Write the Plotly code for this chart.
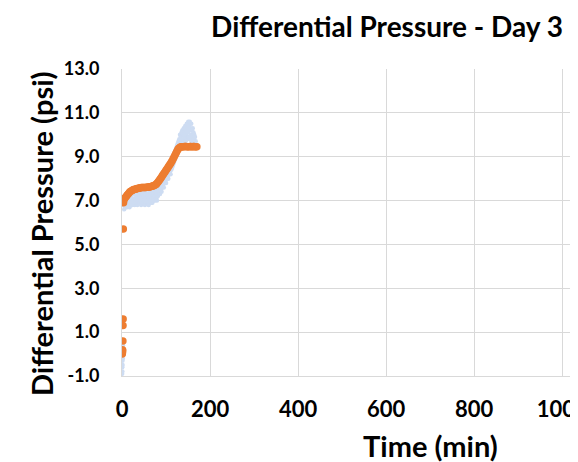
import plotly.graph_objects as go

# ---- data ----
orange_t = [0.5, 0.8, 1.0, 1.2, 1.5, 2.0, 2.3, 2.6, 3.0, 3.5,
            4, 6, 8, 10, 12, 14, 16, 18, 20, 22, 24, 26, 28, 30,
            32, 34, 36, 38, 40, 42, 44, 46, 48, 50, 52, 54, 56, 58, 60,
            62, 64, 66, 68, 70, 72, 74, 76, 78, 80, 82, 84, 86, 88, 90,
            92, 94, 96, 98, 100, 102, 104, 106, 108, 110, 112, 114, 116, 118, 120,
            122, 124, 126, 128, 130, 132, 134, 136, 138, 140, 142, 144, 146, 148, 150,
            152, 154, 156, 158, 160, 162, 164, 166, 168, 170]
orange_v = [0.0, 0.1, 0.05, 0.2, 0.15, 0.6, 1.3, 1.6, 5.7, 6.9,
            7.0, 7.1, 7.15, 7.2, 7.25, 7.3, 7.35, 7.4, 7.42, 7.45, 7.47, 7.5, 7.5, 7.52,
            7.53, 7.55, 7.55, 7.56, 7.57, 7.58, 7.6, 7.6, 7.6, 7.6, 7.6, 7.6, 7.61, 7.61, 7.62,
            7.62, 7.63, 7.64, 7.65, 7.66, 7.68, 7.7, 7.72, 7.75, 7.8, 7.85, 7.9, 7.96, 8.02, 8.08,
            8.14, 8.2, 8.26, 8.32, 8.38, 8.44, 8.5, 8.56, 8.62, 8.68, 8.75, 8.82, 8.9, 8.98, 9.06,
            9.14, 9.22, 9.3, 9.36, 9.4, 9.43, 9.45, 9.46, 9.46, 9.46, 9.47, 9.47, 9.47, 9.46, 9.46,
            9.46, 9.47, 9.47, 9.46, 9.46, 9.47, 9.47, 9.46, 9.46, 9.46]

blue_t = [0.3, 0.6, 0.8, 1.1, 1.3, 1.6, 1.8, 2.2, 2.5,
          3.5, 4.2, 5.1, 5.8, 6.5, 7.3, 8.1, 9.0, 9.6, 10.4, 11.2, 12.0, 12.9, 13.7, 14.5,
          15.3, 16.2, 17.0, 17.9, 18.6, 19.5, 20.3, 21.2, 22.0, 22.9, 23.7, 24.6, 25.4, 26.3,
          27.1, 28.0, 28.8, 29.7, 30.5, 31.4, 32.2, 33.1, 34.0, 34.8, 35.7, 36.5, 37.4, 38.2,
          39.1, 40.0, 40.8, 41.7, 42.5, 43.4, 44.2, 45.1, 46.0, 46.8, 47.7, 48.5, 49.4, 50.2,
          51.1, 52.0, 52.8, 53.7, 54.5, 55.4, 56.2, 57.1, 58.0, 58.8, 59.7, 60.5, 61.4, 62.2,
          63.1, 64.0, 64.8, 65.7, 66.5, 67.4, 68.2, 69.1, 70.0, 70.8, 71.7, 72.5, 73.4, 74.2,
          75.1, 76.0, 76.8, 77.7, 78.5, 79.4,
          80.3, 81.2, 82.0, 83.0, 83.8, 84.7, 85.5, 86.4, 87.2, 88.1, 89.0, 89.8, 90.7, 91.5,
          92.4, 93.2, 94.1, 95.0, 95.8, 96.7, 97.5, 98.4, 99.2, 100.1, 101.0, 101.8, 102.7,
          103.5, 104.4, 105.2, 106.1, 107.0, 107.8, 108.7, 109.5, 110.4, 111.2, 112.1, 113.0,
          113.8, 114.7, 115.5, 116.4, 117.2, 118.1, 119.0, 119.8, 120.7, 121.5, 122.4, 123.2,
          124.1, 125.0, 125.8, 126.7, 127.5, 128.4, 129.2,
          130.1, 130.9, 131.8, 132.6, 133.5, 134.3, 135.2, 136.0, 136.9, 137.7, 138.6, 139.4,
          140.3, 141.1, 142.0, 142.8, 143.7, 144.5, 145.4, 146.2, 147.1, 147.9, 148.8, 149.6,
          150.5, 151.3, 152.2, 153.0, 153.9, 154.7, 155.6, 156.4, 157.3, 158.1, 159.0, 159.8,
          160.7, 161.5, 162.4, 163.2, 164.1, 164.9, 165.8, 166.6, 167.5]
blue_v = [-0.9, -0.6, -0.8, -0.3, -0.5, 0.1, -0.2, 0.4, 0.2,
          6.8, 7.0, 6.6, 7.2, 6.9, 6.7, 7.1, 6.8, 7.3, 6.9, 6.7, 7.2, 7.0, 6.8, 7.3,
          6.9, 7.1, 6.7, 7.4, 7.0, 6.8, 7.2, 6.9, 7.4, 7.1, 6.8, 7.3, 7.0, 6.9,
          7.4, 7.1, 6.8, 7.3, 7.0, 7.5, 6.9, 7.2, 7.0, 6.8, 7.4, 7.1, 6.9, 7.3,
          7.0, 7.5, 6.9, 7.2, 7.0, 6.8, 7.4, 7.1, 6.9, 7.3, 7.0, 7.5, 6.9, 7.2,
          7.0, 6.8, 7.4, 7.1, 6.9, 7.3, 7.0, 7.5, 6.9, 7.2, 7.0, 6.8, 7.3, 7.1,
          6.9, 7.4, 7.0, 7.2, 6.9, 7.3, 7.1, 6.9, 7.4, 7.1, 7.0, 7.3, 7.1, 7.5,
          7.0, 7.2, 7.4, 7.1, 7.3, 7.0,
          7.5, 7.2, 7.6, 7.3, 7.7, 7.4, 7.6, 7.3, 7.8, 7.5, 7.7, 7.4, 7.9, 7.6,
          8.0, 7.7, 7.9, 7.6, 8.1, 7.8, 8.2, 7.9, 8.1, 7.8, 8.3, 8.0, 8.4,
          8.1, 8.3, 8.0, 8.5, 8.2, 8.6, 8.3, 8.5, 8.2, 8.7, 8.4, 8.8,
          8.5, 8.9, 8.6, 9.0, 8.7, 9.1, 8.8, 9.2, 8.9, 9.3, 9.0, 9.4,
          9.1, 9.5, 9.2, 9.6, 9.3, 9.7, 9.4,
          9.8, 9.5, 10.0, 9.6, 9.9, 9.4, 10.1, 9.7, 10.2, 9.5, 10.0, 9.8,
          10.3, 9.6, 10.1, 9.9, 10.4, 9.7, 10.2, 10.0, 10.5, 9.8, 10.3, 10.1,
          10.6, 9.9, 10.4, 10.2, 10.6, 9.8, 10.3, 10.0, 10.5, 9.7, 10.2, 9.9,
          10.3, 9.6, 10.1, 9.8, 10.0, 9.6, 9.9, 9.5, 9.7]

y_ticks = [-1, 1, 3, 5, 7, 9, 11, 13]
x_ticks = [0, 200, 400, 600, 800, 1000]

FONT = "Lato"
grid = "#d9d9d9"

# The page body has an 8px default margin, so the figure is sized to fit the window.
W, H = 570, 454
L, T, B = 114, 61, 86
PW, PH = W - L, H - T - B

fig = go.Figure()
fig.add_trace(go.Scatter(x=blue_t, y=blue_v, mode="markers",
                         marker=dict(size=4.5, color="#cddcf2"), showlegend=False))
fig.add_trace(go.Scatter(x=orange_t, y=orange_v, mode="markers",
                         marker=dict(size=7.5, color="#ED7D31"), showlegend=False))

fig.update_layout(
    width=W, height=H,
    margin=dict(l=L, r=0, t=T, b=B, pad=0),
    paper_bgcolor="white", plot_bgcolor="white",
    font=dict(family=FONT, color="#000000"),
    title=dict(text="Differential Pressure - Day 3", xref="container", yref="container",
               x=379/W, y=1-19/H, xanchor="center", yanchor="middle",
               font=dict(family=FONT, size=28, weight="bold", color="#000000")),
    annotations=[
        dict(text="Time (min)", xref="paper", yref="paper",
             x=(422-L)/PW, y=-(437-(T+PH))/PH, xanchor="center", yanchor="middle",
             showarrow=False, font=dict(family=FONT, size=29, weight="bold")),
        dict(text="Differential Pressure (psi)", xref="paper", yref="paper",
             x=-(L-33)/PW, y=((T+PH)-226)/PH, xanchor="center", yanchor="middle",
             textangle=-90, showarrow=False, font=dict(family=FONT, size=29, weight="bold")),
    ],
)
fig.update_xaxes(range=[0, 1036], tickvals=x_ticks, ticktext=[str(v) for v in x_ticks],
                 showgrid=True, gridcolor=grid, gridwidth=1, zeroline=False,
                 showline=True, linecolor=grid, ticks="", ticklabelstandoff=14,
                 ticklabeloverflow="allow",
                 tickfont=dict(family=FONT, size=22, weight="bold"), automargin=False)
fig.update_yaxes(range=[-1, 13], tickvals=y_ticks, ticktext=[f"{v:.1f}" for v in y_ticks],
                 showgrid=True, gridcolor=grid, gridwidth=1, zeroline=False,
                 showline=True, linecolor=grid, ticks="", ticklabelstandoff=18,
                 tickfont=dict(family=FONT, size=18, weight="bold"), automargin=False)

fig.write_html("out.html")
